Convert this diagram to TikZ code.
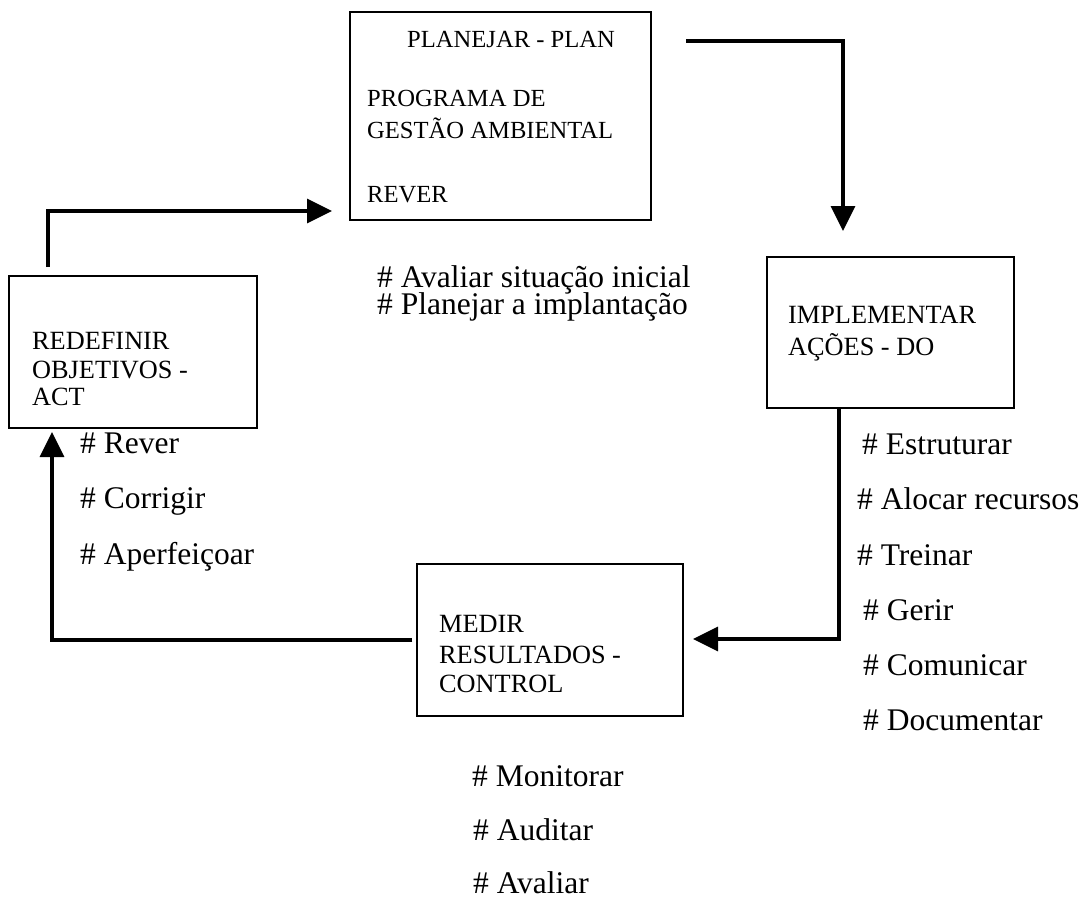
\documentclass[tikz,border=0pt]{standalone}
\usepackage{fontspec}
\setmainfont{Liberation Serif}
\usetikzlibrary{arrows.meta}

\tikzset{
  stagebox/.style={draw=black, line width=1.5pt, rectangle, inner sep=0pt},
  boxtext/.style={anchor=base west, inner sep=0pt, font=\fontsize{26.3}{30}\selectfont},
  plantext/.style={anchor=base west, inner sep=0pt, font=\fontsize{24.6}{28}\selectfont},
  item/.style={anchor=base west, inner sep=0pt, font=\fontsize{31.5}{36}\selectfont},
  flow/.style={line width=3.5pt, -{Triangle[length=25pt,width=24pt]}},
}

\begin{document}
\begin{tikzpicture}[x=1pt,y=-1pt]
\useasboundingbox (0,0) rectangle (1089,898);

% the four stages of the cycle
\node[stagebox, minimum width=301pt, minimum height=208pt] (plan) at (500.5,116) {};
\node[stagebox, minimum width=247pt, minimum height=151pt] (do)   at (890.5,332.5) {};
\node[stagebox, minimum width=266pt, minimum height=152pt] (ctl)  at (550,640) {};
\node[stagebox, minimum width=248pt, minimum height=152pt] (act)  at (133,352) {};

% stage titles
\node[plantext] (planA) at (407,47)  {PLANEJAR - PLAN};
\node[plantext] (planB) at (367,106) {PROGRAMA DE};
\node[plantext] (planC) at (367,138) {GESTÃO AMBIENTAL};
\node[plantext] (planD) at (367,202) {REVER};

\node[boxtext] (doA) at (788,323) {IMPLEMENTAR};
\node[boxtext] (doB) at (788,355) {AÇÕES - DO};

\node[boxtext] (ctlA) at (439,632) {MEDIR};
\node[boxtext] (ctlB) at (439,663) {RESULTADOS -};
\node[boxtext] (ctlC) at (439,692) {CONTROL};

\node[boxtext] (actA) at (32,349) {REDEFINIR};
\node[boxtext] (actB) at (32,378) {OBJETIVOS -};
\node[boxtext] (actC) at (32,405) {ACT};

% task lists
\node[item] (pl1) at (377,287) {\# Avaliar situação inicial};
\node[item] (pl2) at (377,314) {\# Planejar a implantação};

\node[item] (ac1) at (80,453) {\# Rever};
\node[item] (ac2) at (80,508) {\# Corrigir};
\node[item] (ac3) at (80,564) {\# Aperfeiçoar};

\node[item] (do1) at (862,454) {\# Estruturar};
\node[item] (do2) at (857,509) {\# Alocar recursos};
\node[item] (do3) at (857,565) {\# Treinar};
\node[item] (do4) at (863,620) {\# Gerir};
\node[item] (do5) at (863,675) {\# Comunicar};
\node[item] (do6) at (863,730) {\# Documentar};

\node[item] (ct1) at (472,786) {\# Monitorar};
\node[item] (ct2) at (473,840) {\# Auditar};
\node[item] (ct3) at (473,893) {\# Avaliar};

% connector ends
\coordinate (p2dS) at (686,41);
\coordinate (p2dE) at (843,231);
\coordinate (d2cS) at (839,408);
\coordinate (d2cE) at (693,639);
\coordinate (c2aS) at ([xshift=-4pt]ctl.west);
\coordinate (c2aE) at (52,432);
\coordinate (a2pS) at (48,267);
\coordinate (a2pE) at (332,211);

% cycle arrows
\draw[flow] (p2dS) -| (p2dE);
\draw[flow] (d2cS) |- (d2cE);
\draw[flow] (c2aS) -| (c2aE);
\draw[flow] (a2pS) |- (a2pE);
\end{tikzpicture}
\end{document}
